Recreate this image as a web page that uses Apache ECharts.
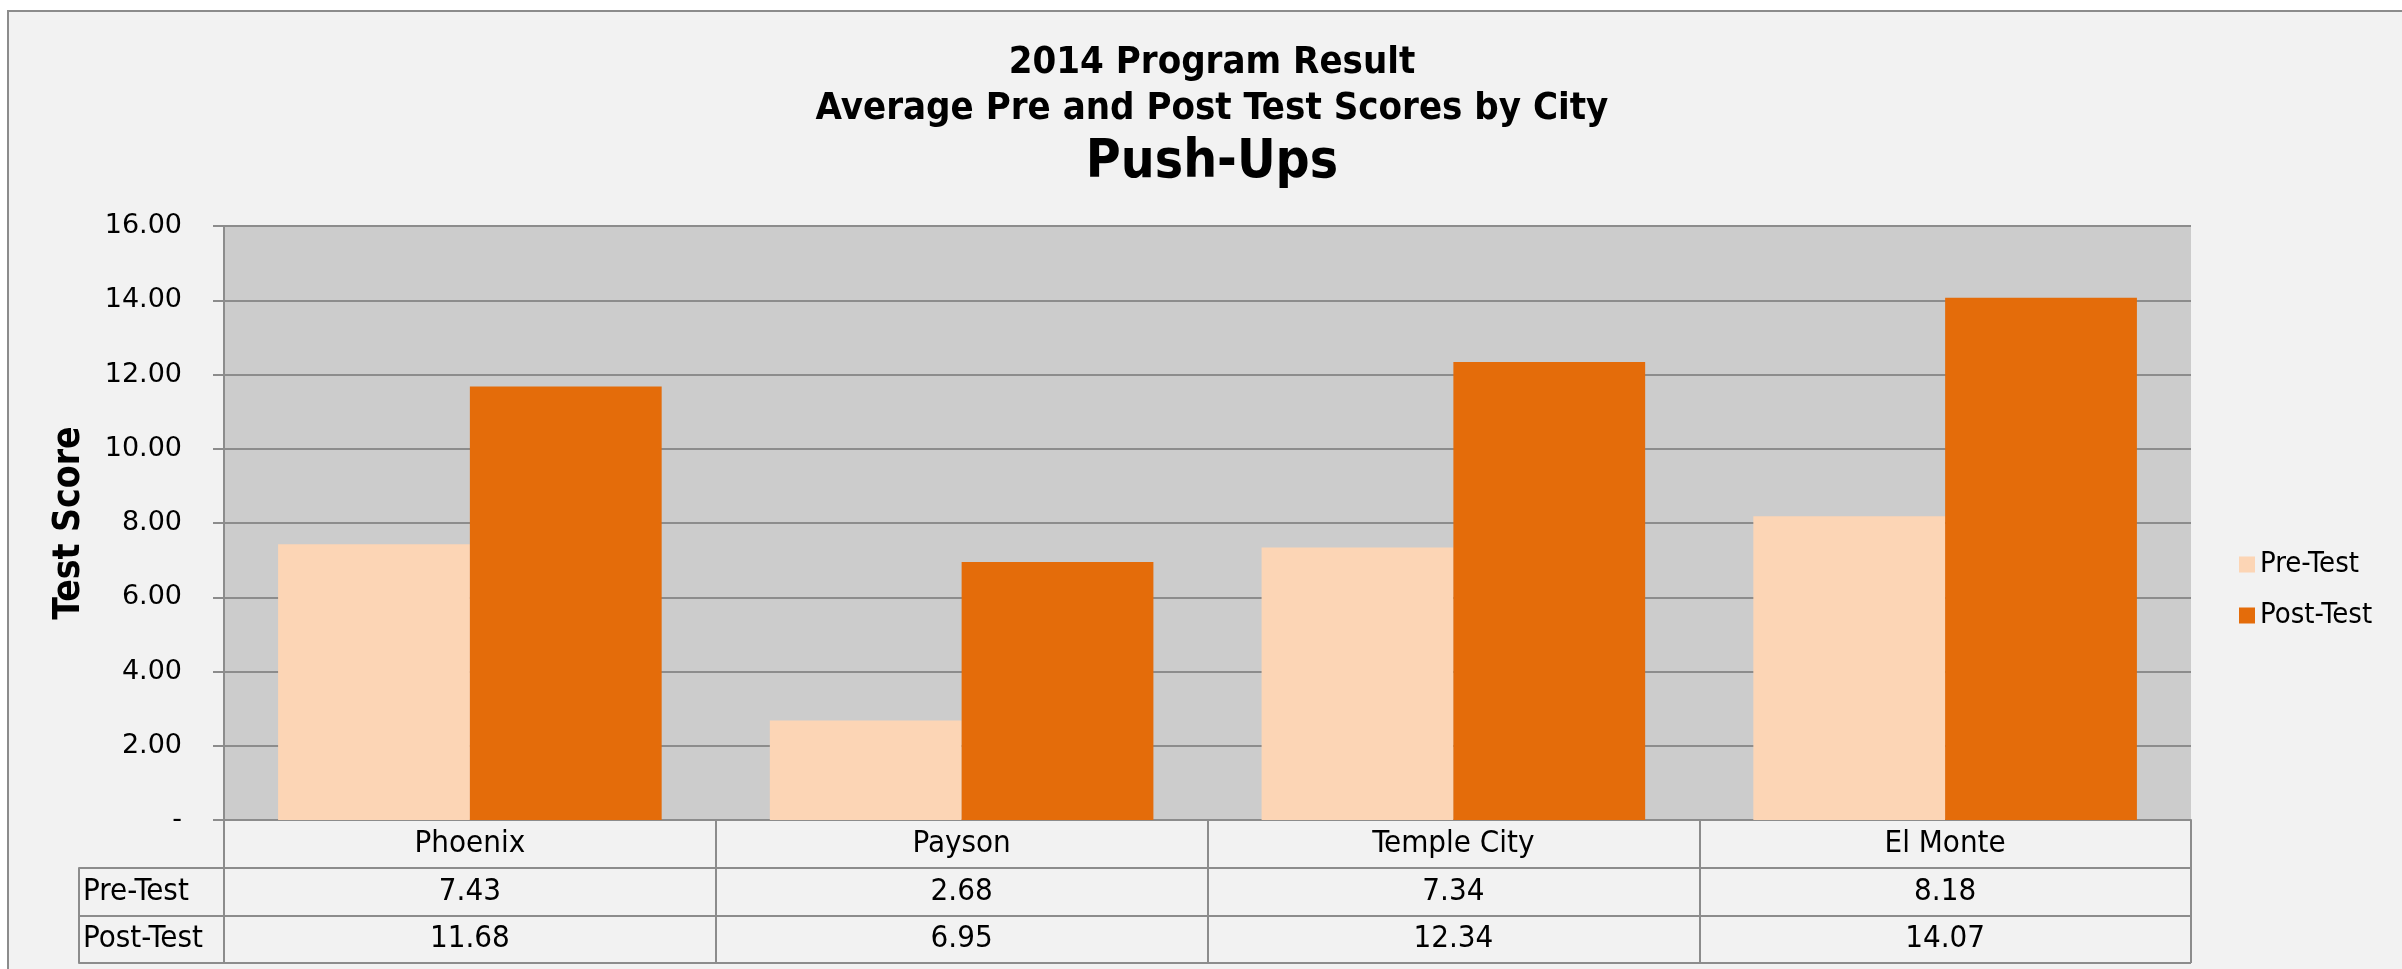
<!DOCTYPE html>
<html>
<head>
<meta charset="utf-8">
<title>Push-Ups</title>
<script src="https://cdn.jsdelivr.net/npm/echarts@6/dist/echarts.min.js"></script>
<style>
body{margin:0;background:#fff;}
#bg{position:absolute;left:7px;top:10px;width:2395px;height:959px;background:#f2f2f2;border-left:2px solid #8c8c8c;border-top:2px solid #8c8c8c;box-sizing:border-box;}
#chart{position:absolute;left:0;top:0;width:2402px;height:969px;}
</style>
</head>
<body>
<div id="bg"></div>
<div id="chart"></div>
<script>
var cities=["Phoenix","Payson","Temple City","El Monte"];
var rows=["Pre-Test","Post-Test"];
var preTest=[7.43,2.68,7.34,8.18];
var postTest=[11.68,6.95,12.34,14.07];
var yMax=16;
var yStep=2;

var font="DejaVu Sans Condensed";
var lineColor="#8c8c8c";

// table cells: [city, row, value]
function tableData(name,arr){
	var out=[];
	for(var i=0;i<arr.length;i++){
		out.push([cities[i],name,arr[i]]);
	}
	return out;
}

function cellLabel(p){
	return p.value[2].toFixed(2);
}

var chart=echarts.init(document.getElementById('chart'));
var option={
	animation:false,
	title:[
		{text:'2014 Program Result',left:1207,top:39,textAlign:'center',
			textStyle:{fontFamily:font,fontWeight:'bold',fontSize:38,lineHeight:38,color:'#000'}},
		{text:'Average Pre and Post Test Scores by City',left:1207,top:85,textAlign:'center',
			textStyle:{fontFamily:font,fontWeight:'bold',fontSize:38,lineHeight:38,color:'#000'}},
		{text:'Push-Ups',left:1207,top:132,textAlign:'center',
			textStyle:{fontFamily:font,fontWeight:'bold',fontSize:53,lineHeight:53,color:'#000'}}
	],
	legend:{
		orient:'vertical',
		left:2234,
		top:545,
		itemWidth:16,
		itemHeight:16,
		itemGap:22,
		icon:'rect',
		data:rows,
		textStyle:{fontFamily:font,fontSize:29,color:'#000'}
	},
	grid:[
		{left:224,right:211,top:226,height:594,show:true,backgroundColor:'#cccccc',borderWidth:0},
		{left:224,right:211,top:868,height:95,show:false}
	],
	xAxis:[
		{type:'category',gridIndex:0,data:cities,
			axisLine:{lineStyle:{color:lineColor,width:2}},
			axisTick:{show:true,length:143,lineStyle:{color:lineColor,width:2}},
			axisLabel:{fontFamily:font,fontSize:31,color:'#000',margin:24,verticalAlign:'middle'},
			splitLine:{show:false}},
		{type:'category',gridIndex:1,data:cities,
			axisLine:{show:false},axisTick:{show:false},axisLabel:{show:false},splitLine:{show:false}}
	],
	yAxis:[
		{type:'value',gridIndex:0,min:0,max:yMax,interval:yStep,
			name:'Test Score',nameLocation:'middle',nameRotate:90,nameGap:136,
			nameTextStyle:{fontFamily:font,fontWeight:'bold',fontSize:37,color:'#000'},
			axisLine:{show:true,lineStyle:{color:lineColor,width:2}},
			axisTick:{show:true,length:11,lineStyle:{color:lineColor,width:2}},
			axisLabel:{fontFamily:'DejaVu Sans',fontSize:27,color:'#000',margin:42,
				formatter:function(v){return v==0?'-':v.toFixed(2);}},
			splitLine:{show:true,lineStyle:{color:lineColor,width:2}}},
		{type:'category',gridIndex:1,data:rows,inverse:true,offset:145,
			axisLine:{show:true,lineStyle:{color:lineColor,width:2}},
			axisTick:{show:true,inside:true,length:145,lineStyle:{color:lineColor,width:2}},
			axisLabel:{inside:true,margin:4,fontFamily:font,fontSize:31,color:'#000'},
			splitLine:{show:true,lineStyle:{color:lineColor,width:2}}}
	],
	series:[
		{name:'Pre-Test',type:'bar',xAxisIndex:0,yAxisIndex:0,data:preTest,
			barGap:'0%',barCategoryGap:'22%',itemStyle:{color:'#fcd5b5'}},
		{name:'Post-Test',type:'bar',xAxisIndex:0,yAxisIndex:0,data:postTest,
			barGap:'0%',barCategoryGap:'22%',itemStyle:{color:'#e46c0a'}},
		{name:'table-pre',type:'scatter',xAxisIndex:1,yAxisIndex:1,data:tableData('Pre-Test',preTest),
			symbolSize:0,itemStyle:{color:'#f2f2f2'},silent:true,
			label:{show:true,position:'inside',fontFamily:font,fontSize:31,color:'#000',
				textBorderWidth:0,opacity:1,formatter:cellLabel}},
		{name:'table-post',type:'scatter',xAxisIndex:1,yAxisIndex:1,data:tableData('Post-Test',postTest),
			symbolSize:0,itemStyle:{color:'#f2f2f2'},silent:true,
			label:{show:true,position:'inside',fontFamily:font,fontSize:31,color:'#000',
				textBorderWidth:0,opacity:1,formatter:cellLabel}}
	]
};
chart.setOption(option);
</script>
</body>
</html>
